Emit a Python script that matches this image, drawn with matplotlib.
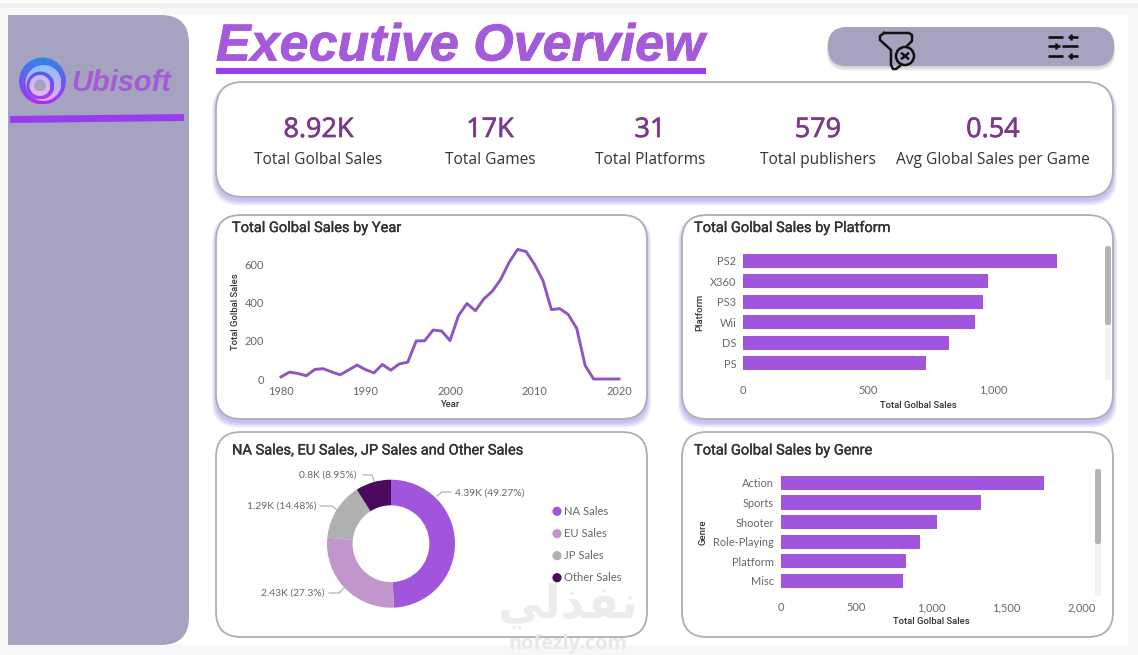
"""Executive Overview dashboard (Ubisoft game sales) redrawn in matplotlib."""

import matplotlib

matplotlib.use("Agg")
import matplotlib.patheffects as pe
import matplotlib.pyplot as plt
import numpy as np
from matplotlib.patches import Circle, FancyBboxPatch, Rectangle

W, H = 1138, 655

# --- Data -------------------------------------------------------------------
KPI_VALUES = ["8.92K", "17K", "31", "579", "0.54"]
KPI_LABELS = ["Total Golbal Sales", "Total Games", "Total Platforms",
              "Total publishers", "Avg Global Sales per Game"]

YEARS = list(range(1980, 2021))
YEAR_SALES = [11, 36, 29, 17, 50, 54, 37, 22, 47, 73, 49, 32, 76, 46, 79, 88,
              199, 200, 256, 251, 201, 331, 395, 357, 419, 459, 521, 611, 678,
              667, 600, 515, 363, 368, 337, 264, 70, 0, 0, 0, 0]
YEAR_TICKS = [1980, 1990, 2000, 2010, 2020]
YEAR_SALES_TICKS = [0, 200, 400, 600]

PLATFORMS = ["PS2", "X360", "PS3", "Wii", "DS", "PS"]
PLATFORM_SALES = [1255, 979, 957, 926, 822, 730]
PLATFORM_TICKS = [0, 500, 1000]

GENRES = ["Action", "Sports", "Shooter", "Role-Playing", "Platform", "Misc"]
GENRE_SALES = [1751, 1330, 1037, 927, 831, 810]
GENRE_TICKS = [0, 500, 1000, 1500, 2000]

REGIONS = ["NA Sales", "EU Sales", "JP Sales", "Other Sales"]
REGION_SALES = [4390, 2430, 1290, 800]
REGION_LABELS = ["4.39K (49.27%)", "2.43K (27.3%)", "1.29K (14.48%)", "0.8K (8.95%)"]

# Palette
PURPLE = "#a155dd"
LINE = "#8f56c2"
TITLE = "#a45ad9"
RULE = "#9a3bf0"
SLATE = "#a5a3bf"
KPI = "#7a3a8c"
INK = "#333333"
TICK = "#666666"
EDGE = "#aeaeb4"
DONUT = ["#a155dd", "#c196cb", "#b0b0b0", "#4a0a5e"]

BODY = ["Open Sans", "DejaVu Sans"]
HEAD = ["Roboto", "DejaVu Sans"]
SMALL = ["Lato", "DejaVu Sans"]


def px(size):
    return size * 0.72


def panel_axes(fig, left, top, right, bottom):
    return fig.add_axes([left / W, 1 - bottom / H, (right - left) / W, (bottom - top) / H])


def rounded(ax, x0, y0, x1, y1, r, **kw):
    patch = FancyBboxPatch((x0 + r, y0 + r), x1 - x0 - 2 * r, y1 - y0 - 2 * r,
                           boxstyle=f"round,pad={r},rounding_size={r}", **kw)
    ax.add_patch(patch)
    return patch


def shadow(ax, x0, y0, x1, y1, r, color="#7068e0", reach=8, dy=3):
    for i in range(reach, 0, -1):
        rounded(ax, x0 - i * 0.5, y0 + dy - i * 0.2, x1 + i * 0.5, y1 + dy + i * 0.7, r,
                facecolor=color, edgecolor="none", alpha=0.06)


def card(ax, x0, y0, x1, y1, r=25, glow=True):
    if glow:
        shadow(ax, x0, y0, x1, y1, r)
    rounded(ax, x0, y0, x1, y1, r, facecolor="white", edgecolor=EDGE, linewidth=1.3)


def draw_background(ax):
    ax.add_patch(Rectangle((0, 3), W, 5, facecolor="#efefef", edgecolor="none"))
    ax.add_patch(Rectangle((0, 8), W, H, facecolor="#f7f7f7", edgecolor="none"))
    ax.add_patch(Rectangle((8, 15), 1120, 630, facecolor="white", edgecolor="none"))

    # sidebar, square on the left and rounded on the right
    side = rounded(ax, -40, 15, 189, 645, 28, facecolor=SLATE, edgecolor="none")
    side.set_clip_path(Rectangle((8, 0), 400, H, transform=ax.transData))
    ax.plot([10, 184], [119.5, 117.5], color=RULE, linewidth=5, solid_capstyle="butt")

    # title
    ax.text(216, 47, "Executive Overview", family=["Liberation Sans"], weight="bold",
            style="italic", size=px(52), color=TITLE, ha="left", va="center",
            path_effects=[pe.withStroke(linewidth=0.6, foreground=TITLE)])
    ax.add_patch(Rectangle((216, 67.5), 490, 6.5, facecolor=RULE, edgecolor="none"))


def gradient_disc(ax, cx, cy, r, top, bottom):
    top, bottom = np.array(matplotlib.colors.to_rgb(top)), np.array(matplotlib.colors.to_rgb(bottom))
    t = np.linspace(0, 1, 64)[:, None, None]
    img = (1 - t) * top[None, None, :] + t * bottom[None, None, :]
    im = ax.imshow(img, extent=(cx - r, cx + r, cy + r, cy - r), aspect="auto", zorder=1.5)
    im.set_clip_path(Circle((cx, cy), r, transform=ax.transData))


def draw_logo(ax):
    gradient_disc(ax, 42.5, 81, 23.5, "#2f86ea", "#ac2ff0")
    gradient_disc(ax, 43.5, 83, 18, "#8cc0f8", "#e8a8fa")
    gradient_disc(ax, 40.5, 85.5, 14, "#4f62ea", "#a040f0")
    gradient_disc(ax, 40, 85.5, 10.5, "#c8b8f6", "#e6b4f8")
    gradient_disc(ax, 40, 85.5, 6, SLATE, SLATE)
    ax.set_xlim(0, W)
    ax.set_ylim(H, 0)
    ax.text(71, 83, "Ubisoft", family=["Liberation Sans"], weight="bold", style="italic",
            size=px(29), color=TITLE, ha="left", va="center", zorder=4)


def draw_buttons(ax):
    for i in range(6, 0, -1):
        rounded(ax, 828 - i * 0.2, 27 + i * 0.4, 1114 + i * 0.2, 66 + i * 0.8, 19,
                facecolor="#555555", edgecolor="none", alpha=0.05)
    rounded(ax, 828, 27, 1114, 66, 19, facecolor=SLATE, edgecolor="none")

    dark = "#111111"
    ax.plot([884, 909, 912, 912, 907], [33, 33, 35, 41, 46], color=dark, lw=1.8,
            solid_joinstyle="round")
    ax.plot([884, 880, 880, 891, 891, 893, 896, 900], [33, 36, 40, 50, 65, 69, 69, 66],
            color=dark, lw=1.8, solid_joinstyle="round")
    ax.add_patch(Circle((905, 56), 9, facecolor="none", edgecolor=dark, lw=1.8))
    ax.plot([902, 908], [53.5, 58.5], color=dark, lw=1.8)
    ax.plot([908, 902], [53.5, 58.5], color=dark, lw=1.8)

    for y, x_gap, tick in ((36.5, (1063, 1068), 1071), (46, (1060, 1062), 1056),
                           (55.5, (1063, 1068), 1071)):
        ax.plot([1048, x_gap[0]], [y, y], color=dark, lw=1.9, solid_capstyle="butt")
        ax.plot([x_gap[1], 1078], [y, y], color=dark, lw=1.9, solid_capstyle="butt")
        ax.plot([tick, tick], [y - 3, y + 3], color=dark, lw=1.9, solid_capstyle="butt")


def draw_kpis(ax):
    card(ax, 216, 82, 1113, 197, r=27)
    centers = [318.5, 490, 650, 818, 993]
    for cx, value, label in zip(centers, KPI_VALUES, KPI_LABELS):
        ax.text(cx, 130, value, family=BODY, size=px(27), color=KPI, ha="center", va="center",
                path_effects=[pe.withStroke(linewidth=0.5, foreground=KPI)])
        ax.text(cx, 160, label, family=BODY, size=px(15.5), color=INK, ha="center", va="center")


def style_axes(ax, xlabel, ylabel):
    ax.patch.set_alpha(0)
    for spine in ax.spines.values():
        spine.set_visible(False)
    ax.tick_params(length=0, labelsize=px(11), labelcolor=TICK, pad=5)
    ax.set_xlabel(xlabel, family=HEAD, size=px(9.5), weight="medium", color=INK)
    ax.set_ylabel(ylabel, family=HEAD, size=px(9.5), weight="medium", color=INK)
    for lab in ax.get_xticklabels() + ax.get_yticklabels():
        lab.set_family(SMALL)


def draw_line(fig):
    ax = panel_axes(fig, 281, 245.2, 619, 379)
    ax.plot(YEARS, YEAR_SALES, color=LINE, linewidth=2.1, clip_on=False,
            solid_joinstyle="round")
    ax.set_xlim(1980, 2020)
    ax.set_ylim(0, 700)
    ax.set_xticks(YEAR_TICKS)
    ax.set_yticks(YEAR_SALES_TICKS)
    style_axes(ax, "Year", "Total Golbal Sales")
    ax.tick_params(axis="x", pad=5)
    ax.tick_params(axis="y", pad=12)
    ax.xaxis.labelpad = 2
    ax.yaxis.set_label_coords(-0.121, 0.5)


def draw_bars(fig, box, names, values, ticks, xmax, height, ylabel, tick_pad, label_y):
    ax = panel_axes(fig, *box)
    ax.barh(names, values, height=height, color=PURPLE)
    ax.set_ylim(len(names) - 0.5, -0.5)
    ax.set_xlim(0, xmax)
    ax.set_xticks(ticks, [f"{t:,}" for t in ticks])
    style_axes(ax, "Total Golbal Sales", ylabel)
    ax.tick_params(axis="x", pad=tick_pad)
    ax.xaxis.set_label_coords(0.5, label_y)
    return ax


def draw_donut(fig, deco):
    ax = panel_axes(fig, 391 - 64, 543.7 - 64, 391 + 64, 543.7 + 64)
    ax.pie(REGION_SALES, colors=DONUT, startangle=90, counterclock=False, radius=1,
           wedgeprops={"width": 0.4, "linewidth": 0})
    ax.set_xlim(-1, 1)
    ax.set_ylim(-1, 1)
    ax.set_aspect("equal")

    placed = [(455.5, 493, "left", [(437, 496), (442, 492), (451, 492)]),
              (325, 593, "right", [(329, 593), (339, 593), (344, 588)]),
              (316, 506, "right", [(320, 506), (332, 506), (337, 510)]),
              (357, 475, "right", [(363, 475), (372, 475), (374, 481)])]
    for label, (x, y, ha, leader) in zip(REGION_LABELS, placed):
        deco.text(x, y, label, family=SMALL, size=px(10.2), color=TICK, ha=ha, va="center")
        deco.plot(*zip(*leader), color="#b5b5b5", lw=0.9)

    for y, name, col in zip([511.3, 533.7, 555.7, 577.7], REGIONS, DONUT):
        deco.add_patch(Circle((557, y), 4.6, facecolor=col, edgecolor="none", zorder=4))
        deco.text(564, y, name, family=SMALL, size=px(11.2), color=TICK, ha="left", va="center",
                  zorder=4)


def draw_watermark(ax):
    ax.text(568, 606, "\ufef2\ufedf\ufeac\ufed4\ufee7", family=["DejaVu Sans"], weight="bold",
            size=px(46), color="#ececec", ha="center", va="center", zorder=2)
    ax.text(568, 644, "nofezly.com", family=["Open Sans"], weight="bold", size=px(20),
            color="#e8e8e8", ha="center", va="center", zorder=2)


def main():
    fig = plt.figure(figsize=(W / 100, H / 100), dpi=100, facecolor="white")
    deco = fig.add_axes([0, 0, 1, 1])
    deco.set_xlim(0, W)
    deco.set_ylim(H, 0)
    deco.axis("off")

    draw_background(deco)
    draw_logo(deco)
    draw_buttons(deco)
    draw_kpis(deco)

    card(deco, 216, 215, 647, 419)
    card(deco, 682, 215, 1113, 419)
    card(deco, 216, 432, 647, 637, glow=False)
    card(deco, 682, 432, 1113, 637, glow=False)

    titles = [(232, 228, "Total Golbal Sales by Year"),
              (694, 228, "Total Golbal Sales by Platform"),
              (232, 450.5, "NA Sales, EU Sales, JP Sales and Other Sales"),
              (694, 450.5, "Total Golbal Sales by Genre")]
    for x, y, text in titles:
        deco.text(x, y, text, family=HEAD, size=px(14.6), color=INK, ha="left", va="center",
                  path_effects=[pe.withStroke(linewidth=0.25, foreground=INK)])

    # scrollbars of the two bar visuals
    for x, y0, y1, y2 in ((1105, 246, 325, 380), (1095, 469, 544, 596)):
        deco.add_patch(Rectangle((x, y0), 6, y2 - y0, facecolor="#f3f3f3", edgecolor="none"))
        rounded(deco, x, y0, x + 6, y1, 2.5, facecolor="#b4b4b4", edgecolor="none")

    draw_watermark(deco)

    draw_line(fig)
    draw_bars(fig, (743.3, 250.5, 1093.3, 373.4), PLATFORMS, PLATFORM_SALES, PLATFORM_TICKS,
              1400, 0.68, "Platform", 8, -0.225)
    draw_bars(fig, (780.7, 473.2, 1082, 590.5), GENRES, GENRE_SALES, GENRE_TICKS,
              2000, 0.72, "Genre", 8.5, -0.225)
    draw_donut(fig, deco)

    fig.savefig("out.png", dpi=100, facecolor="white")
    plt.close(fig)


if __name__ == "__main__":
    main()
